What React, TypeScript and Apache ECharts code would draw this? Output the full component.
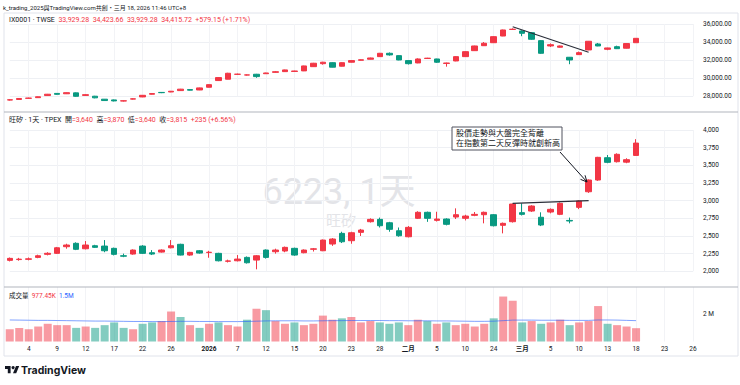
import React, { useEffect, useRef } from 'react';
import * as echarts from 'echarts';

// ---------- categories (trading days + future slots) ----------
const tradingDays: string[] = [
  '2025-12-02','2025-12-03','2025-12-04','2025-12-05','2025-12-08','2025-12-09','2025-12-10','2025-12-11','2025-12-12',
  '2025-12-15','2025-12-16','2025-12-17','2025-12-18','2025-12-19','2025-12-22','2025-12-23','2025-12-24','2025-12-26',
  '2025-12-29','2025-12-30','2025-12-31',
  '2026-01-02','2026-01-05','2026-01-06','2026-01-07','2026-01-08','2026-01-09','2026-01-12','2026-01-13','2026-01-14',
  '2026-01-15','2026-01-16','2026-01-19','2026-01-20','2026-01-21','2026-01-22','2026-01-23','2026-01-26','2026-01-27',
  '2026-01-28','2026-01-29','2026-01-30',
  '2026-02-02','2026-02-03','2026-02-04','2026-02-05','2026-02-06','2026-02-09','2026-02-10','2026-02-11','2026-02-23',
  '2026-02-24','2026-02-25','2026-02-26',
  '2026-03-02','2026-03-03','2026-03-04','2026-03-05','2026-03-06','2026-03-09','2026-03-10','2026-03-11','2026-03-12',
  '2026-03-13','2026-03-16','2026-03-17','2026-03-18','2026-03-19','2026-03-20','2026-03-23','2026-03-24','2026-03-25',
  '2026-03-26',
];

const tickDates: string[] = [
  '2025-12-04','2025-12-09','2025-12-12','2025-12-17','2025-12-22','2025-12-26','2026-01-02','2026-01-07','2026-01-12',
  '2026-01-15','2026-01-20','2026-01-23','2026-01-28','2026-02-02','2026-02-05','2026-02-10','2026-02-24','2026-03-02',
  '2026-03-05','2026-03-10','2026-03-13','2026-03-18','2026-03-23','2026-03-26',
];
const tickTexts: string[] = [
  '4','9','12','17','22','26','2026','7','12','15','20','23','28','二月','5','10','24','三月','5','10','13','18','23','26',
];
const boldTicks: string[] = ['2026', '二月', '三月'];

// ---------- TWSE index (IX0001) ----------
const twseOpen: number[] = [
  27590,27650,27780,27850,28080,28320,28280,28380,28100,28010,27680,27600,27480,27690,27930,28230,28430,28480,28630,28740,28700,
  29000,29740,29890,30430,30350,30440,30500,30650,30730,30750,30810,31280,31610,31720,31330,31770,31990,32100,32390,32760,32500,
  31950,31690,32180,32130,31640,31910,32390,33050,33600,33930,34670,35400,
  35230,35040,34160,33570,33430,32320,32610,33130,33790,33200,33490,33320,33929.28,
];
const twseClose: number[] = [
  27610,27760,27800,27950,28230,28220,28400,28000,28180,27830,27530,27490,27500,27720,28110,28300,28400,28560,28790,28680,28930,
  29290,30070,30550,30450,30370,30180,30580,30720,30920,30800,31360,31660,31770,31220,31720,31950,32040,32240,32760,32580,32020,
  31610,32130,32220,31770,31680,32390,32940,33570,33870,34600,35340,35420,
  34970,34310,32760,33710,33570,32020,32830,34090,33570,33350,33270,33836.57,34415.72,
];
const twseLow: number[] = [
  27540,27620,27740,27820,28050,28180,28250,27950,28050,27780,27500,27440,27430,27650,27900,28200,28350,28450,28600,28650,28680,
  28980,29700,29880,30380,30300,30050,30470,30620,30700,30720,30790,31250,31500,31200,31300,31740,31970,32080,32370,32500,31990,
  31520,31660,32150,31700,31280,31880,32360,33020,33580,33900,34650,35350,
  34650,34250,32700,33450,33380,31550,32580,33100,33540,33100,33230,33290,33929.28,
];
const twseHigh: number[] = [
  27680,27800,27850,27980,28260,28350,28430,28420,28230,28050,27700,27640,27540,27780,28140,28340,28460,28590,28820,28770,28960,
  29320,30120,30600,30510,30420,30480,30610,30800,30950,30830,31390,31700,31820,31760,31760,32000,32080,32280,32800,32850,32530,
  31980,32200,32260,32160,31720,32430,32980,33600,34000,34640,35380,35520,
  35300,35100,34200,33850,33620,32350,32950,34120,33900,33380,33600,33870,34423.66,
];

// ---------- 6223 旺矽 ----------
const stockOpen: number[] = [
  2155,2166,2170,2197,2240,2254,2348,2396,2319,2362,2357,2325,2220,2244,2357,2263,2272,2333,2382,2230,2291,
  2265,2254,2142,2149,2197,2159,2301,2277,2287,2325,2263,2312,2291,2386,2537,2433,2551,2702,2735,2687,2574,
  2489,2750,2835,2721,2740,2768,2750,2792,2801,2801,2651,2702,
  2830,2853,2765,2839,2806,2720,2905,3126,3292,3608,3551,3545,3640,
];
const stockClose: number[] = [
  2183,2172,2176,2220,2255,2333,2372,2311,2372,2339,2291,2240,2214,2301,2254,2244,2301,2362,2230,2268,2258,
  2270,2149,2147,2173,2121,2220,2197,2301,2339,2230,2301,2318,2442,2457,2418,2546,2584,2735,2645,2594,2503,
  2622,2835,2750,2740,2665,2801,2782,2806,2835,2645,2679,2952,
  2806,2924,2655,2877,2962,2712,2995,3292,3613,3542,3656,3580,3815,
];
const stockLow: number[] = [
  2140,2150,2155,2185,2225,2245,2320,2300,2310,2330,2270,2225,2200,2235,2245,2230,2265,2325,2225,2220,2250,
  2192,2140,2125,2140,2110,2028,2180,2250,2270,2220,2255,2280,2285,2360,2400,2390,2500,2690,2620,2560,2490,
  2480,2740,2700,2705,2650,2740,2720,2780,2679,2635,2537,2690,
  2790,2840,2640,2820,2795,2679,2880,3110,3280,3530,3540,3530,3640,
];
const stockHigh: number[] = [
  2195,2190,2195,2235,2270,2345,2390,2410,2428,2375,2442,2335,2250,2310,2370,2300,2310,2442,2390,2275,2300,
  2290,2262,2165,2230,2210,2230,2310,2320,2350,2335,2310,2330,2450,2470,2560,2560,2600,2750,2760,2700,2620,
  2640,2850,2845,2843,2750,2891,2800,2839,2845,2810,2690,2960,
  2962,2935,2835,2890,2975,2760,3005,3300,3620,3646,3670,3600,3870,
];

// ---------- volume (millions) and its moving average ----------
const volumeM: number[] = [
  0.9,1.0,0.9,1.1,1.3,1.2,1.2,1.0,1.1,1.0,1.2,1.4,1.0,0.9,1.3,1.4,1.5,2.2,1.8,1.2,1.0,
  1.3,1.4,1.2,1.1,1.6,2.4,2.3,1.5,1.3,1.4,1.2,1.3,1.9,1.6,1.7,1.8,1.4,1.5,1.4,1.3,1.4,
  1.2,1.6,1.5,1.3,1.4,1.2,1.3,1.1,1.3,1.7,3.3,3.0,
  1.4,1.5,1.3,1.4,1.6,1.2,1.4,1.5,2.6,1.3,1.2,1.1,0.97745,
];
const volumeMA: number[] = [
  1.58,1.57,1.56,1.55,1.55,1.54,1.53,1.52,1.51,1.50,1.50,1.49,1.48,1.47,1.47,1.46,1.46,1.47,1.48,1.48,1.47,
  1.47,1.46,1.46,1.46,1.47,1.49,1.51,1.52,1.52,1.52,1.51,1.51,1.52,1.53,1.53,1.54,1.54,1.54,1.54,1.53,1.53,
  1.52,1.52,1.52,1.51,1.51,1.50,1.49,1.48,1.48,1.49,1.53,1.57,
  1.57,1.57,1.56,1.56,1.56,1.55,1.55,1.55,1.58,1.58,1.57,1.55,1.53,
];

// ---------- header texts ----------
const titleText = 'k_trading_2025與TradingView.com共創・三月 18, 2026 11:46 UTC+8';
const twseHeader = '{k|IX0001 · TWSE}  {r|33,929.28}  {r|34,423.66}  {r|33,929.28}  {r|34,415.72}  {r|+579.15 (+1.71%)}';
const stockHeader = '{k|旺矽 · 1天 · TPEX}  {k|開}{r|=3,640}  {k|高}{r|=3,870}  {k|低}{r|=3,640}  {k|收}{r|=3,815}  {r|+235 (+6.56%)}';
const volHeader = '{k|成交量}  {r|977.45K}  {b|1.5M}';
const annotationLines = ['股價走勢與大盤完全背離', '在指數第二天反彈時就創新高'];

const UP = '#F23645';
const DOWN = '#089981';
const FONT = "Roboto, 'Noto Sans CJK TC', sans-serif";

echarts.graphic.registerShape(
  'tvlogo',
  echarts.graphic.extendPath('M14 22H7V11H0V4h14v18zM28 22h-8l7.5-18h8L28 22z', {}) as any
);

export default function App() {
  const ref = useRef<HTMLDivElement>(null);

  useEffect(() => {
    if (!ref.current) return;
    const chart = echarts.init(ref.current, null, { renderer: 'svg' });

    const tickIndex = new Set(tickDates.map((d) => tradingDays.indexOf(d)));
    const labelOf: Record<string, string> = {};
    tickDates.forEach((d, i) => (labelOf[d] = tickTexts[i]));

    const twseData = twseOpen.map((o, i) => [o, twseClose[i], twseLow[i], twseHigh[i]]);
    const stockData = stockOpen.map((o, i) => [o, stockClose[i], stockLow[i], stockHigh[i]]);
    const volData = volumeM.map((v, i) => ({
      value: v,
      itemStyle: { color: stockClose[i] >= stockOpen[i] ? 'rgba(242,54,69,0.5)' : 'rgba(8,153,129,0.5)' },
    }));

    const L = 9.75;
    const R = 47;
    const makeX = (gridIndex: number, showLabels: boolean) => ({
      type: 'category',
      gridIndex,
      data: tradingDays,
      boundaryGap: false,
      axisLine: { show: false },
      axisTick: { show: false },
      axisLabel: {
        show: showLabels,
        interval: (i: number) => tickIndex.has(i),
        formatter: (v: string) => {
          const t = labelOf[v] ?? '';
          return boldTicks.includes(t) ? `{b|${t}}` : t;
        },
        fontSize: 6.5,
        color: '#131722',
        fontFamily: FONT,
        margin: 4,
        rich: { b: { fontWeight: 'bold', fontSize: 6.5, fontFamily: FONT, color: '#131722' } },
      },
      splitLine: {
        show: true,
        interval: (i: number) => tickIndex.has(i),
        lineStyle: { color: '#f2f3f6', width: 1 },
      },
    });

    const yCommon = {
      type: 'value',
      position: 'right',
      axisLine: { show: false },
      axisTick: { show: false },
      splitLine: { lineStyle: { color: '#eef0f4', width: 1 } },
    };

    const arrowFrom = [560, 152];
    const arrowTo = [587, 182];
    const ang = Math.atan2(arrowTo[1] - arrowFrom[1], arrowTo[0] - arrowFrom[0]);
    const headLen = 7;
    const h1 = [arrowTo[0] - headLen * Math.cos(ang - 0.45), arrowTo[1] - headLen * Math.sin(ang - 0.45)];
    const h2 = [arrowTo[0] - headLen * Math.cos(ang + 0.45), arrowTo[1] - headLen * Math.sin(ang + 0.45)];

    const hdr = (size: number) => ({
      k: { fill: '#131722', fontSize: size, fontFamily: FONT },
      r: { fill: UP, fontSize: size, fontFamily: FONT },
      b: { fill: '#2962FF', fontSize: size, fontFamily: FONT },
    });

    const option: any = {
      animation: false,
      backgroundColor: '#ffffff',
      textStyle: { fontFamily: FONT },
      grid: [
        { left: L, right: R, top: 24, height: 72.3 },
        { left: L, right: R, top: 130, height: 141.3 },
        { left: L, right: R, top: 287, height: 54.5 },
      ],
      xAxis: [makeX(0, false), makeX(1, false), makeX(2, true)],
      yAxis: [
        {
          ...yCommon,
          gridIndex: 0,
          min: 28000,
          max: 36000,
          interval: 2000,
          axisLabel: {
            fontSize: 6.5, color: '#131722', margin: 10, fontFamily: FONT,
            formatter: (v: number) => v.toLocaleString('en-US', { minimumFractionDigits: 2, maximumFractionDigits: 2 }),
          },
        },
        {
          ...yCommon,
          gridIndex: 1,
          min: 2000,
          max: 4000,
          interval: 250,
          axisLabel: {
            fontSize: 6.5, color: '#131722', margin: 10, fontFamily: FONT,
            formatter: (v: number) => v.toLocaleString('en-US'),
          },
        },
        {
          ...yCommon,
          gridIndex: 2,
          min: 0,
          max: 4,
          interval: 2,
          axisLabel: {
            fontSize: 6.5, color: '#131722', margin: 10, fontFamily: FONT,
            formatter: (v: number) => (v === 2 ? '2 M' : ''),
          },
          splitLine: { show: false },
        },
      ],
      series: [
        {
          type: 'candlestick',
          xAxisIndex: 0,
          yAxisIndex: 0,
          data: twseData,
          barWidth: 6,
          clip: false,
          itemStyle: { color: UP, color0: DOWN, borderColor: UP, borderColor0: DOWN, borderWidth: 1 },
          markLine: {
            silent: true,
            symbol: 'none',
            label: { show: false },
            lineStyle: { color: '#2a2e39', width: 1.2, type: 'solid' },
            data: [[{ coord: ['2026-02-26', 35700] }, { coord: ['2026-03-11', 32870] }]],
          },
        },
        {
          type: 'candlestick',
          xAxisIndex: 1,
          yAxisIndex: 1,
          data: stockData,
          barWidth: 6,
          clip: false,
          itemStyle: { color: UP, color0: DOWN, borderColor: UP, borderColor0: DOWN, borderWidth: 1 },
          markLine: {
            silent: true,
            symbol: 'none',
            label: { show: false },
            lineStyle: { color: '#2a2e39', width: 1.2, type: 'solid' },
            data: [[{ coord: ['2026-02-26', 2962] }, { coord: ['2026-03-11', 2999] }]],
          },
        },
        {
          type: 'bar',
          xAxisIndex: 2,
          yAxisIndex: 2,
          data: volData,
          barWidth: 8,
        },
        {
          type: 'line',
          xAxisIndex: 2,
          yAxisIndex: 2,
          data: volumeMA,
          showSymbol: false,
          lineStyle: { color: '#2962FF', width: 1, opacity: 0.6 },
          z: 3,
        },
      ],
      graphic: [
        {
          type: 'text', z: 0, x: 339, y: 192,
          style: { text: '6223, 1天', fontSize: 36, fontFamily: FONT, fill: '#e3e4e8', align: 'center', verticalAlign: 'middle' },
        },
        {
          type: 'text', z: 0, x: 341, y: 221,
          style: { text: '旺矽', fontSize: 15, fontFamily: FONT, fill: '#e3e4e8', align: 'center', verticalAlign: 'middle' },
        },
        { type: 'rect', z: 1, shape: { x: 4, y: 13, width: 734, height: 343 }, style: { fill: 'none', stroke: '#e0e3eb', lineWidth: 1 } },
        { type: 'line', z: 1, shape: { x1: 4, y1: 112, x2: 738, y2: 112 }, style: { stroke: '#b2b5be', lineWidth: 1.2 } },
        { type: 'line', z: 1, shape: { x1: 4, y1: 287, x2: 738, y2: 287 }, style: { stroke: '#b2b5be', lineWidth: 1.2 } },
        { type: 'text', z: 5, x: 3, y: 7, style: { text: titleText, fontSize: 6, fontFamily: FONT, fill: '#131722', verticalAlign: 'middle' } },
        {
          type: 'text', z: 5, x: 9, y: 20,
          style: { text: twseHeader, fontSize: 7, fontFamily: FONT, verticalAlign: 'middle', rich: hdr(7) },
        },
        {
          type: 'text', z: 5, x: 9, y: 120,
          style: { text: stockHeader, fontSize: 7, fontFamily: FONT, verticalAlign: 'middle', rich: hdr(7) },
        },
        {
          type: 'text', z: 5, x: 9, y: 296,
          style: { text: volHeader, fontSize: 6.5, fontFamily: FONT, verticalAlign: 'middle', rich: hdr(6.5) },
        },
        { type: 'rect', z: 5, shape: { x: 452, y: 127, width: 110, height: 23 }, style: { fill: '#ffffff', stroke: '#50535e', lineWidth: 1 } },
        {
          type: 'text', z: 6, x: 456, y: 138.5,
          style: { text: annotationLines.join('\n'), fontSize: 8, lineHeight: 10, fontFamily: FONT, fill: '#131722', verticalAlign: 'middle' },
        },
        { type: 'line', z: 6, shape: { x1: arrowFrom[0], y1: arrowFrom[1], x2: arrowTo[0], y2: arrowTo[1] }, style: { stroke: '#131722', lineWidth: 1 } },
        { type: 'polyline', z: 6, shape: { points: [h1, arrowTo, h2] }, style: { stroke: '#131722', lineWidth: 1, fill: 'none' } },
        { type: 'tvlogo', z: 5, x: 5, y: 364.5, scaleX: 0.4, scaleY: 0.4, style: { fill: '#131722' } },
        { type: 'circle', z: 5, shape: { cx: 13.1, cy: 367.6, r: 1.6 }, style: { fill: '#131722' } },
        {
          type: 'text', z: 5, x: 21, y: 370,
          style: { text: 'TradingView', fontSize: 10.5, fontWeight: 'bold', fontFamily: 'Inter, Roboto, sans-serif', fill: '#131722', verticalAlign: 'middle' },
        },
      ],
    };

    chart.setOption(option);
    return () => chart.dispose();
  }, []);

  return (
    <div
      ref={ref}
      style={{ position: 'fixed', left: 0, top: 0, width: 740, height: 385, background: '#fff' }}
    />
  );
}
